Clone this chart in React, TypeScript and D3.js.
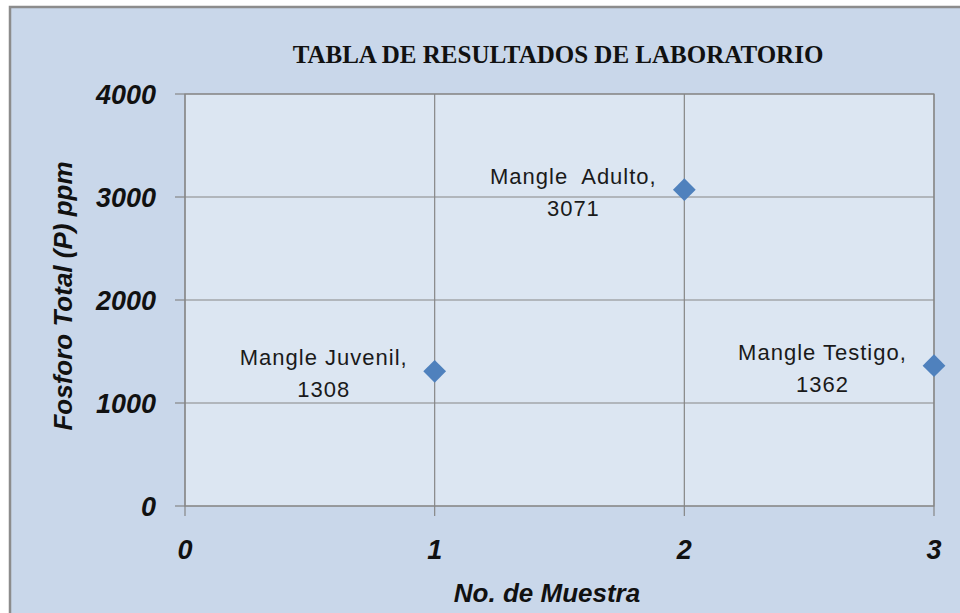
import { useMemo } from "react";
import * as d3 from "d3";

const W = 960;
const H = 613;

const TITLE = "TABLA DE RESULTADOS DE LABORATORIO";
const X_TITLE = "No. de Muestra";
const Y_TITLE = "Fosforo Total (P) ppm";

const SAMPLES = [1, 2, 3];
const PHOSPHORUS = [1308, 3071, 1362];
const NAMES = ["Mangle Juvenil,", "Mangle  Adulto,", "Mangle Testigo,"];

const X_TICKS = [0, 1, 2, 3];
const Y_TICKS = [0, 1000, 2000, 3000, 4000];

const LABEL_SIZE = 22;
const LABEL_SPACING = 1;
const LABEL_FONT = `${LABEL_SIZE}px 'Liberation Sans', sans-serif`;

const measure = (() => {
  let ctx: CanvasRenderingContext2D | null = null;
  return (s: string) => {
    if (!ctx) ctx = document.createElement("canvas").getContext("2d");
    if (!ctx) return s.length * 11;
    ctx.font = LABEL_FONT;
    return ctx.measureText(s).width + s.length * LABEL_SPACING;
  };
})();

export default function App() {
  const margin = { top: 94, right: 26, bottom: 107, left: 185 };
  const innerW = W - margin.left - margin.right;
  const innerH = H - margin.top - margin.bottom;

  const x = useMemo(() => d3.scaleLinear().domain([0, 3]).range([0, innerW]), [innerW]);
  const y = useMemo(() => d3.scaleLinear().domain([0, 4000]).range([innerH, 0]), [innerH]);

  const points = SAMPLES.map((s, i) => ({ s, v: PHOSPHORUS[i], name: NAMES[i] }));
  const diamond = d3.symbol(d3.symbolDiamond2, 330)();

  const tickFont = {
    fontFamily: "'Liberation Sans Narrow', 'Liberation Sans', sans-serif",
    fontWeight: 700,
    fontStyle: "italic",
  } as const;

  return (
    <svg
      width={W}
      height={H}
      style={{ position: "absolute", left: 0, top: 0, background: "#fff" }}
    >
      {/* chart area */}
      <rect x={10} y={7} width={W + 10} height={H + 10} fill="#c9d7ea" stroke="#8c8c8c" strokeWidth={2.5} />

      <text
        x={558}
        y={63}
        textAnchor="middle"
        fontFamily="'Liberation Serif', serif"
        fontWeight={700}
        fontSize={25}
        fill="#111"
      >
        {TITLE}
      </text>

      <g transform={`translate(${margin.left},${margin.top})`}>
        <rect width={innerW} height={innerH} fill="#dce6f2" stroke="#8c8c8c" strokeWidth={1.2} />

        {Y_TICKS.filter((t) => t > 0).map((t) => (
          <line key={t} x1={0} x2={innerW} y1={y(t)} y2={y(t)} stroke="#868686" strokeWidth={1.2} />
        ))}
        {X_TICKS.filter((t) => t > 0).map((t) => (
          <line key={t} x1={x(t)} x2={x(t)} y1={0} y2={innerH} stroke="#868686" strokeWidth={1.2} />
        ))}

        {/* axes */}
        <line x1={0} x2={0} y1={0} y2={innerH} stroke="#868686" strokeWidth={1.2} />
        <line x1={0} x2={innerW} y1={innerH} y2={innerH} stroke="#868686" strokeWidth={1.2} />
        {Y_TICKS.map((t) => (
          <g key={t} transform={`translate(0,${y(t)})`}>
            <line x1={-10} x2={0} stroke="#868686" strokeWidth={1.2} />
            <text x={-29} dy="0.36em" textAnchor="end" fontSize={27} fill="#111" {...tickFont}>
              {t}
            </text>
          </g>
        ))}
        {X_TICKS.map((t) => (
          <g key={t} transform={`translate(${x(t)},${innerH})`}>
            <line y1={0} y2={10} stroke="#868686" strokeWidth={1.2} />
            <text y={43} dy="0.36em" textAnchor="middle" fontSize={27} fill="#111" {...tickFont}>
              {t}
            </text>
          </g>
        ))}

        {/* data labels */}
        {points.map((p) => {
          const px = x(p.s);
          const py = y(p.v);
          const w = measure(p.name);
          const cx = px - 27 - w / 2;
          return (
            <g
              key={p.s}
              fontFamily="'Liberation Sans', sans-serif"
              fontSize={LABEL_SIZE}
              letterSpacing={LABEL_SPACING}
              fill="#1a1a1a"
            >
              <text x={cx} y={py - 14} dy="0.36em" textAnchor="middle" style={{ whiteSpace: "pre" }}>
                {p.name}
              </text>
              <text x={cx} y={py + 18} dy="0.36em" textAnchor="middle">
                {p.v}
              </text>
            </g>
          );
        })}

        {points.map((p) => (
          <path key={p.s} d={diamond ?? ""} transform={`translate(${x(p.s)},${y(p.v)})`} fill="#4f81bd" />
        ))}
      </g>

      <text x={547} y={593} dy="0.36em" textAnchor="middle" fontSize={26} fill="#111" {...tickFont}>
        {X_TITLE}
      </text>
      <text
        transform={`translate(63,${296}) rotate(-90)`}
        dy="0.36em"
        textAnchor="middle"
        fontSize={26}
        fill="#111"
        {...tickFont}
      >
        {Y_TITLE}
      </text>
    </svg>
  );
}
